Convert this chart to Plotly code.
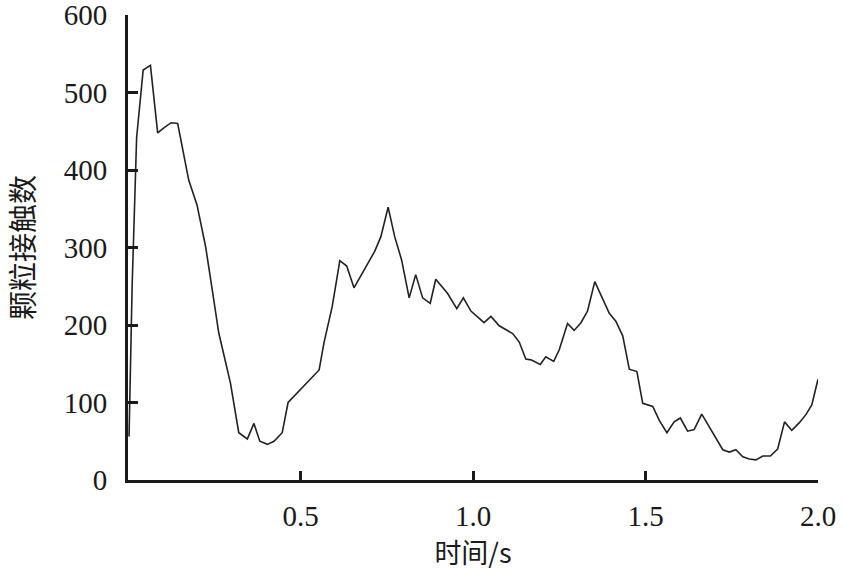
import plotly.graph_objects as go

time_s = [0.003, 0.012, 0.025, 0.044, 0.065, 0.086, 0.103, 0.125, 0.144, 0.167, 0.176,
          0.200, 0.225, 0.244, 0.263, 0.297, 0.321, 0.346, 0.365, 0.382, 0.404, 0.423,
          0.447, 0.464, 0.500, 0.554, 0.568, 0.592, 0.614, 0.634, 0.655, 0.684, 0.715,
          0.733, 0.754, 0.773, 0.793, 0.815, 0.834, 0.854, 0.876, 0.892, 0.926, 0.953,
          0.972, 0.994, 1.032, 1.052, 1.076, 1.115, 1.134, 1.153, 1.168, 1.195, 1.211,
          1.234, 1.250, 1.274, 1.293, 1.313, 1.332, 1.353, 1.376, 1.395, 1.414, 1.434,
          1.453, 1.475, 1.492, 1.521, 1.540, 1.562, 1.583, 1.601, 1.622, 1.641, 1.663,
          1.685, 1.704, 1.724, 1.743, 1.762, 1.782, 1.801, 1.820, 1.840, 1.862, 1.883,
          1.903, 1.924, 1.946, 1.966, 1.982, 2.000]
contacts = [56, 250, 442, 529, 535, 448, 454, 461, 460, 406, 387,
            355, 301, 246, 190, 125, 61, 53, 73, 50, 46, 50,
            61, 100, 117, 142, 177, 224, 283, 276, 248, 271, 295,
            314, 352, 314, 284, 235, 265, 235, 228, 259, 241, 221,
            235, 218, 203, 211, 199, 189, 178, 156, 155, 149, 159,
            153, 168, 202, 193, 203, 218, 256, 234, 215, 205, 186,
            143, 140, 99, 95, 77, 61, 75, 80, 63, 65, 85,
            69, 54, 39, 36, 39, 30, 27, 26, 31, 31, 40,
            75, 64, 74, 85, 97, 130]

x_ticks = [0.5, 1.0, 1.5, 2.0]
x_ticktext = ["0.5", "1.0", "1.5", "2.0"]
y_ticks = [0, 100, 200, 300, 400, 500, 600]

fig = go.Figure()
fig.add_trace(go.Scatter(x=time_s, y=contacts, mode="lines",
                         line=dict(color="#222222", width=1.6), showlegend=False))

tick_font = dict(family="Liberation Serif", size=29, color="#1a1a1a")
fig.update_layout(
    width=844, height=572,
    margin=dict(l=128, r=26, t=15, b=92, autoexpand=False),
    paper_bgcolor="white", plot_bgcolor="white",
    font=dict(family="Liberation Serif", color="#1a1a1a"),
)
fig.update_xaxes(
    range=[0, 2.0], tickvals=x_ticks, ticktext=x_ticktext, automargin=False,
    ticks="inside", ticklen=9, tickwidth=3, tickcolor="#1a1a1a",
    showline=True, linewidth=3, linecolor="#1a1a1a", showgrid=False, zeroline=False,
    tickfont=tick_font, ticklabelstandoff=8, ticklabeloverflow="allow",
    title=dict(text="时间/s", font=dict(family="Noto Sans CJK SC", size=27, color="#1a1a1a"), standoff=4),
)
fig.update_yaxes(
    range=[0, 600], tickvals=y_ticks, automargin=False,
    ticks="inside", ticklen=10, tickwidth=3, tickcolor="#1a1a1a",
    showline=True, linewidth=3, linecolor="#1a1a1a", showgrid=False, zeroline=False,
    tickfont=tick_font, ticklabelstandoff=12, ticklabeloverflow="allow",
    title=dict(text="颗粒接触数", font=dict(family="Noto Sans CJK SC", size=29, color="#1a1a1a"), standoff=24),
)

fig.write_html("out.html", config={"displayModeBar": False},
               post_script="document.body.style.margin='0';document.body.style.overflow='hidden';")
